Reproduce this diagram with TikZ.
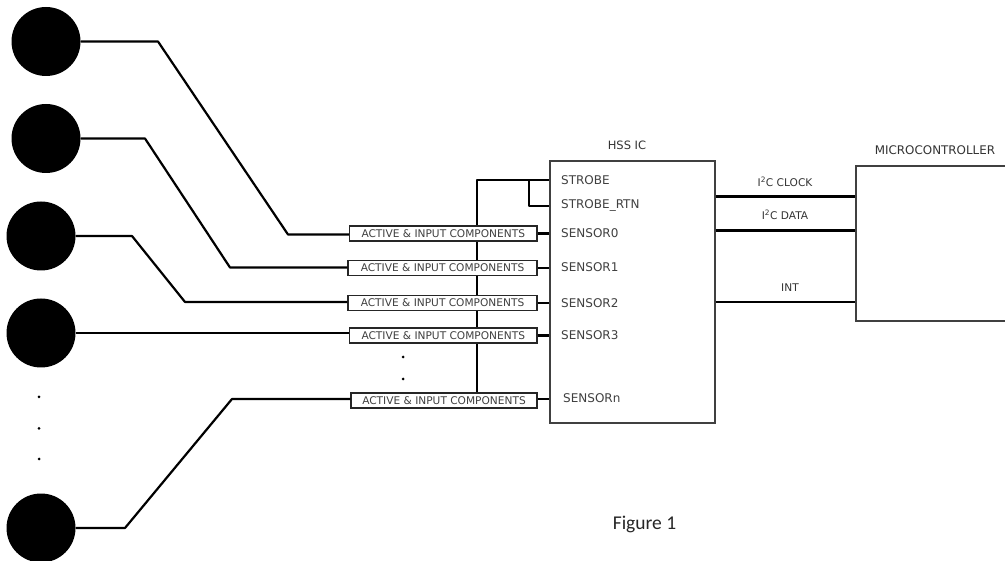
\documentclass[tikz,border=0pt]{standalone}
\usepackage{fontspec}
\setmainfont{DejaVu Sans}
\newfontfamily\capfont{Carlito}
\tikzset{
  x=1pt,y=-1pt,
  sensordisc/.style={circle,fill=black,draw=none,minimum size=69pt,inner sep=0pt},
  wire/.style={draw=black,line width=2.2pt,line join=round},
  thinbox/.style={draw=black!75,line width=1.2pt,fill=white,inner sep=0pt},
  compbox/.style={thinbox,draw=black!85,minimum height=15pt,font=\fontsize{10.6}{12}\selectfont,text=black!75},
  pinlabel/.style={anchor=west,inner sep=0pt,font=\fontsize{12}{14}\selectfont,text=black!75},
  toplabel/.style={inner sep=0pt,font=\fontsize{11.5}{13}\selectfont,text=black!80},
  dotmark/.style={circle,fill=black,draw=none,minimum size=3pt,inner sep=0pt}
}
\begin{document}
\begin{tikzpicture}
\useasboundingbox (0,0) rectangle (1005,561);
% sensors
\node[sensordisc] (s0) at (46,41.5) {};
\node[sensordisc] (s1) at (46,138.5) {};
\node[sensordisc] (s2) at (41,236) {};
\node[sensordisc] (s3) at (41,333) {};
\node[sensordisc] (s4) at (41,528) {};
% main blocks
\node[thinbox,minimum width=165pt,minimum height=262pt] (ic) at (632.5,292) {};
\node[thinbox,minimum width=151pt,minimum height=155pt] (mcu) at (931.5,243.5) {};
\coordinate (busTop) at (477,180);
\coordinate (strobeIn) at (ic.west |- busTop);
\coordinate (rtnIn) at (ic.west |- 0,206);
\coordinate (rtnTap) at (529,180);
% strobe bus (runs behind the component boxes)
\node[inner sep=0pt,minimum size=0pt] (busEnd) at (477,394) {};
\draw[wire] (busEnd) -- (busTop) -- (strobeIn);
\draw[wire] (rtnTap) |- (rtnIn);
% component boxes
\node[compbox,minimum width=187.5pt] (a0) at (443.25,233.5) {ACTIVE \& INPUT COMPONENTS};
\node[compbox,minimum width=189pt] (a1) at (442.5,268) {ACTIVE \& INPUT COMPONENTS};
\node[compbox,minimum width=189pt] (a2) at (442.5,303) {ACTIVE \& INPUT COMPONENTS};
\node[compbox,minimum width=187.5pt] (a3) at (443.25,335.5) {ACTIVE \& INPUT COMPONENTS};
\node[compbox,minimum width=186pt] (a4) at (444,400.5) {ACTIVE \& INPUT COMPONENTS};
% sensor wires
\coordinate (b0) at (288,234.5);
\coordinate (b1) at (230,267.5);
\coordinate (b2) at (185,302);
\coordinate (b4) at (232,399);
\draw[wire] (s0.east) -- (158,41.5) -- (b0) -- (b0 -| a0.west);
\draw[wire] (s1.east) -- (145,138.5) -- (b1) -- (b1 -| a1.west);
\draw[wire] (s2.east) -- (132,236) -- (b2) -- (b2 -| a2.west);
\draw[wire] (s3.east) -- (s3.east -| a3.west);
\draw[wire] (s4.east) -- (125,528) -- (b4) -- (b4 -| a4.west);
% box to IC
\foreach \n in {a0,a1,a2,a3} \draw[wire] (\n.east) -- (\n.east -| ic.west);
\coordinate (n4) at (a4.east |- b4);
\draw[wire] (n4) -- (n4 -| ic.west);
% IC to microcontroller
\coordinate (clk) at (ic.east |- 0,196.5);
\coordinate (dat) at (ic.east |- 0,230.5);
\coordinate (irq) at (ic.east |- 0,302);
\draw[wire] (clk) -- (clk -| mcu.west);
\draw[wire] (dat) -- (dat -| mcu.west);
\draw[wire] (irq) -- (irq -| mcu.west);
% pin labels
\node[pinlabel] (p0) at (561,180) {STROBE};
\node[pinlabel] (p1) at (561,205.5) {STROBE\_RTN};
\node[pinlabel] (p2) at (561,233) {SENSOR0};
\node[pinlabel] (p3) at (561,267) {SENSOR1};
\node[pinlabel] (p4) at (561,303) {SENSOR2};
\node[pinlabel] (p5) at (561,335) {SENSOR3};
\node[pinlabel] (p6) at (563,398) {SENSORn};
% titles
\node[toplabel] (t0) at (627,145) {HSS IC};
\node[toplabel,font=\fontsize{11.9}{13}\selectfont] (t1) at (935,150) {MICROCONTROLLER};
\node[toplabel,font=\fontsize{10.6}{13}\selectfont] (t2) at (785,182) {I\textsuperscript{2}C CLOCK};
\node[toplabel,font=\fontsize{10.6}{13}\selectfont] (t3) at (785,215) {I\textsuperscript{2}C DATA};
\node[toplabel,font=\fontsize{10.6}{13}\selectfont] (t4) at (790,288) {INT};
\node[inner sep=0pt,font=\capfont\fontsize{19.5}{22}\selectfont,text=black!85] (fig) at (644.5,524) {Figure 1};
% ellipsis dots
\node[dotmark] (d0) at (403,357) {};
\node[dotmark] (d1) at (403,379) {};
\node[dotmark] (d2) at (39,397) {};
\node[dotmark] (d3) at (39,428.5) {};
\node[dotmark] (d4) at (39,459) {};
\end{tikzpicture}
\end{document}
